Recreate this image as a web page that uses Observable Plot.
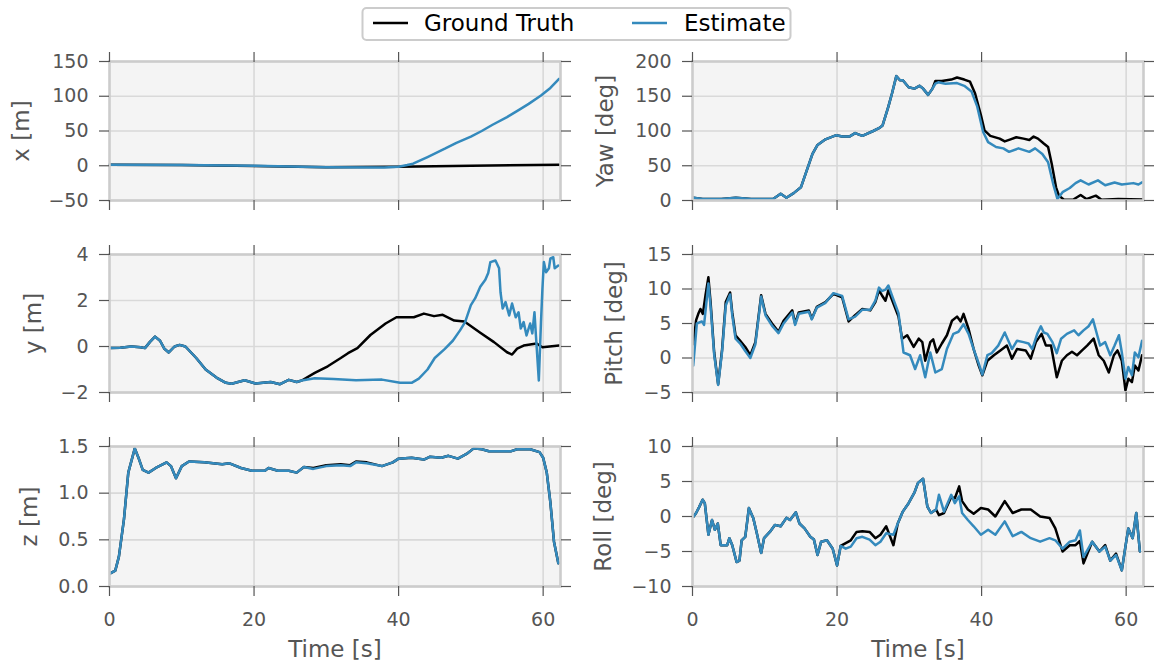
<!DOCTYPE html>
<html>
<head>
<meta charset="utf-8">
<script src="https://cdn.jsdelivr.net/npm/d3@7"></script>
<script src="https://cdn.jsdelivr.net/npm/@observablehq/plot@0.6"></script>
<style>
  html, body { margin: 0; padding: 0; background: #ffffff; }
  #wrap { position: relative; width: 1161px; height: 668px; overflow: hidden; font-family: "DejaVu Sans", sans-serif; }
  #wrap svg { position: absolute; }
</style>
</head>
<body>
<div id="wrap"></div>
<script>
// ---------------- data (time [s], value) ----------------
const timeTicks = [0, 20, 40, 60];
const seriesNames = ["Ground Truth", "Estimate"];

const xTicks = [-50, 0, 50, 100, 150];
const xTruth = [[0,1.5],[10,1],[20,-0.5],[30,-2],[40,-1.5],[50,0],[62.2,1.5]];
const xEst = [[0,1.5],[10,1],[20,0],[30,-2],[38,-2.5],[40,-1.5],[41.2,1],[42,3],[44,12.5],[46.4,24.5],[48,33],[50,42],[51.5,50],[53,59],[55,70],[56.6,80],[58,89],[59.7,101],[61,112],[62.2,125]];

const yTicks = [-2, 0, 2, 4];
const yShared = [[0,-0.07],[1.5,-0.05],[3,0],[4.3,-0.03],[4.9,-0.07],[5.6,0.2],[6.3,0.43],[7,0.25],[7.6,-0.1],[8.2,-0.26],[9,0],[9.7,0.07],[10.5,0],[12,-0.5],[13.3,-1.0],[14.8,-1.35],[16.1,-1.58],[16.9,-1.62],[18.7,-1.47],[20.2,-1.61],[22.3,-1.54],[23.6,-1.64],[24.8,-1.45],[25.9,-1.54],[26.6,-1.48]];
const yTruthTail = [[28.4,-1.15],[30.2,-0.86],[32,-0.5],[33,-0.29],[34.3,-0.07],[36.1,0.5],[38.2,1.0],[39.7,1.27],[42.1,1.27],[43.5,1.43],[44.9,1.32],[46.1,1.38],[47.7,1.13],[49.1,1.09],[51.3,0.6],[53.2,0.19],[55,-0.25],[55.7,-0.35],[56.4,-0.09],[57.3,0.04],[59.1,0.13],[59.9,-0.03],[62.2,0.04]];
const yEstTail = [[28.4,-1.38],[31,-1.41],[34.1,-1.47],[37.7,-1.44],[40.2,-1.58],[41.8,-1.58],[42.8,-1.4],[44,-1.0],[45,-0.5],[46.4,-0.1],[47.5,0.25],[48.5,0.7],[49.2,1.06],[50,1.8],[50.6,2.1],[51.3,2.6],[52,2.9],[52.4,3.2],[52.7,3.67],[53.4,3.74],[53.9,3.4],[54.1,2.36],[54.4,1.65],[54.8,1.93],[55.3,1.35],[55.7,1.87],[56.2,1.27],[56.6,1.49],[56.9,0.78],[57.3,1.06],[57.7,0.48],[58.2,1.0],[58.5,0.57],[58.8,1.49],[59.0,0.48],[59.4,-1.48],[59.7,1.06],[59.9,2.52],[60.1,3.67],[60.4,3.23],[60.8,3.4],[61,3.83],[61.4,3.88],[61.6,3.4],[62.1,3.52]];
const yTruth = yShared.concat(yTruthTail);
const yEst = yShared.concat(yEstTail);

const zTicks = [0, 0.5, 1.0, 1.5];
const zEst = [[0.1,0.14],[0.8,0.17],[1.3,0.32],[2,0.72],[2.6,1.22],[3.5,1.48],[4.1,1.36],[4.6,1.25],[5.4,1.22],[6.4,1.27],[7.9,1.33],[8.5,1.29],[9.2,1.16],[10,1.29],[11,1.34],[13.1,1.33],[15.6,1.31],[16.6,1.32],[18.2,1.27],[19.7,1.24],[21.5,1.24],[22,1.27],[23.3,1.24],[24.8,1.24],[25.9,1.22],[26.9,1.28],[28.2,1.26],[30,1.29],[32,1.3],[33.3,1.29],[34.1,1.33],[35.6,1.32],[37.7,1.29],[39.2,1.33],[40,1.37],[41.8,1.38],[43.5,1.36],[44.3,1.39],[45.9,1.38],[46.9,1.4],[48.2,1.37],[49.4,1.42],[50.4,1.48],[51.5,1.47],[52.5,1.45],[54.6,1.45],[55.6,1.45],[56.4,1.47],[58.2,1.47],[59.5,1.44],[60,1.38],[60.5,1.22],[61,0.9],[61.5,0.48],[62.1,0.25]];
const zTruth = [[0.1,0.14],[0.8,0.17],[1.3,0.32],[2,0.72],[2.6,1.22],[3.5,1.48],[4.1,1.36],[4.6,1.25],[5.4,1.22],[6.4,1.27],[7.9,1.33],[8.5,1.29],[9.2,1.16],[10,1.29],[11,1.34],[13.1,1.33],[15.6,1.31],[16.6,1.32],[18.2,1.27],[19.7,1.24],[21.5,1.24],[22,1.27],[23.3,1.24],[24.8,1.24],[25.9,1.22],[26.9,1.28],[28.2,1.27],[30,1.3],[32,1.31],[33.3,1.3],[34.1,1.34],[35.6,1.33],[37.7,1.29],[39.2,1.33],[40,1.37],[41.8,1.38],[43.5,1.36],[44.3,1.39],[45.9,1.38],[46.9,1.4],[48.2,1.37],[49.4,1.42],[50.4,1.48],[51.5,1.47],[52.5,1.45],[54.6,1.45],[55.6,1.45],[56.4,1.47],[58.2,1.47],[59.5,1.44],[60,1.38],[60.5,1.22],[61,0.9],[61.5,0.48],[62.1,0.25]];

const yawTicks = [0, 50, 100, 150, 200];
const yawShared = [[0.1,4],[1.4,2],[4,2],[6,4],[8.1,2],[11.2,2.4],[12.2,9.6],[13,4],[14,10.6],[15,19],[15.8,43],[16.6,67],[17.3,80],[18.4,88],[19.9,94],[20.7,92],[21.7,92],[22.5,97],[23.5,93],[25,100],[25.8,104],[26.3,108],[27.1,135],[27.6,154],[28.2,179],[28.7,173],[29.1,173],[29.9,163],[30.7,161],[31.4,165],[31.9,161],[32.6,152],[33.2,161]];
const yawTruthTail = [[33.6,172],[34.5,172],[35.8,174],[36.6,177],[37.6,174],[38.4,171],[39.1,154],[39.9,123],[40.4,101],[41.2,93],[42.5,89],[43.2,85],[44,88],[44.8,91],[45.8,89],[46.6,87],[47.2,92],[47.8,89],[48.6,82],[49.2,77],[49.7,53],[50.3,19],[50.7,7],[51.4,1],[52.7,1.5],[53.7,8],[54.5,2],[55.8,7],[56.6,1],[58.9,2],[62.2,1.5]];
const yawEstTail = [[33.6,168],[34,170],[35,168],[36.6,169],[37.6,165],[38.6,157],[39.4,135],[40.2,99],[40.9,84],[42,77],[43,75],[43.8,70],[45.1,75],[46.6,70],[47.4,75],[48.4,67],[49.2,55],[49.9,24],[50.5,2],[51.2,12],[52.2,18],[53,25],[53.7,29],[54.8,23],[56.1,29],[57.1,22],[58.4,26],[59.4,23],[61,25],[61.7,23],[62.2,26]];
const yawTruth = yawShared.concat(yawTruthTail);
const yawEst = yawShared.concat(yawEstTail);

const pitchTicks = [-5, 0, 5, 10, 15];
const pitchTruth = [[0.1,2.0],[0.5,5.5],[0.8,6.4],[1.1,7.1],[1.43,6.4],[1.8,9.1],[2.2,11.7],[2.5,8.1],[3,0.8],[3.55,-3.8],[4.1,1.3],[4.6,8.1],[5.2,9.5],[5.5,6.6],[5.95,3.3],[6.6,2.5],[7.3,1.6],[8,0.4],[8.7,2.3],[9.5,9.1],[10.1,6.4],[11,5.0],[11.9,3.8],[12.6,5.4],[13.8,6.9],[14.2,5.0],[14.7,6.6],[16.1,6.9],[16.5,5.7],[17.2,7.4],[18.4,8.1],[19.5,9.3],[20.7,8.8],[21.6,5.3],[22.5,6.2],[23.5,7.1],[24.6,6.9],[25.3,8.1],[25.8,9.8],[26.2,9.1],[26.7,8.3],[27.1,9.8],[27.8,7.9],[28.5,6.0],[29,2.8],[29.7,3.3],[30.6,1.6],[31.3,2.8],[31.8,2.3],[32.2,-0.4],[32.9,2.3],[33.3,2.7],[33.8,0.8],[34.5,2.1],[35.2,3.3],[35.9,5.4],[36.6,6.0],[37.1,5.3],[37.5,6.4],[38.2,4.2],[38.9,1.3],[39.6,-1.1],[40.1,-2.5],[40.8,-0.4],[41.7,0.4],[42.6,1.1],[43.5,1.8],[44.2,-0.1],[44.9,1.3],[46.1,1.1],[46.8,-0.1],[47.5,2.3],[48.3,3.5],[48.9,1.8],[49.6,1.8],[50.4,-2.8],[51.1,-0.4],[51.8,0.4],[52.5,0.9],[53.2,0.4],[53.9,1.1],[54.6,1.8],[55.5,2.8],[56.2,0.4],[56.9,-0.4],[57.6,-2.1],[58.3,0.4],[58.8,1.1],[59.4,-0.4],[59.9,-4.7],[60.3,-3.0],[60.8,-3.5],[61.2,-1.1],[61.7,-1.8],[62.2,0.4]];
const pitchEst = [[0.1,-1.1],[0.6,5.0],[1.3,5.3],[1.6,4.8],[2.2,10.8],[2.5,7.5],[3,0.5],[3.55,-3.9],[4.1,1.0],[4.6,7.6],[5.2,9.2],[5.5,6.2],[5.95,2.8],[6.6,2.1],[7.3,1.0],[8,0.0],[8.7,2.0],[9.5,8.9],[10.1,6.2],[11,4.7],[11.9,3.6],[12.6,5.0],[13.8,6.6],[14.2,4.8],[14.7,6.4],[16.1,6.7],[16.5,5.6],[17.2,7.3],[18.4,8.0],[19.5,9.4],[20.7,9.0],[21.6,5.6],[22.5,6.0],[23.5,7.0],[24.6,7.0],[25.3,8.3],[25.8,10.2],[26.2,9.7],[26.7,9.9],[27.1,10.5],[27.8,8.5],[28.5,6.5],[29.2,0.8],[30.1,0.4],[30.8,-1.6],[31.5,0.4],[32.2,-2.8],[32.9,0.8],[33.6,-2.1],[34.5,-1.6],[35.2,1.3],[36.1,3.5],[36.8,3.8],[37.5,4.9],[38.2,3.5],[38.9,1.3],[39.6,-0.8],[40.1,-2.4],[40.8,0.4],[41.4,0.7],[42.3,1.8],[43.2,3.7],[43.7,2.5],[44.2,1.3],[44.9,2.5],[45.8,2.3],[46.5,2.1],[47,1.3],[47.7,3.5],[48.2,4.6],[48.6,3.7],[49.1,3.5],[49.8,2.3],[50.4,0.7],[51,2.8],[51.8,3.5],[52.8,4.0],[53.4,3.3],[54.1,4.0],[54.8,4.6],[55.4,5.6],[56,3.3],[56.4,1.8],[57.1,2.3],[57.8,0.4],[58.4,1.8],[59,3.3],[59.4,0.8],[59.9,-3.0],[60.3,-1.3],[60.8,-2.5],[61.2,0.8],[61.7,0.1],[62.2,2.5]];

const rollTicks = [-10, -5, 0, 5, 10];
const rollShared = [[0.15,0],[0.5,0.5],[0.9,1.3],[1.4,2.4],[1.7,1.9],[2.2,-2.6],[2.7,-0.5],[3.1,-1.9],[3.5,-1.0],[3.9,-4.1],[4.8,-4.1],[5.1,-3.1],[5.5,-4.1],[6.1,-6.5],[6.5,-6.3],[6.8,-3.4],[7.3,-2.9],[7.8,1.2],[8.4,-0.2],[8.9,-2.4],[9.5,-5.2],[9.9,-3.1],[10.7,-2.2],[11.4,-1.2],[12.2,-1.4],[13,-0.2],[13.5,-0.5],[14.3,0.6],[14.8,-1.0],[15.5,-1.7],[16.3,-2.9],[16.8,-3.3],[17.3,-5.5],[17.8,-3.6],[18.6,-3.4],[19.4,-4.6],[20,-7.0],[20.5,-4.2]];
const rollTruthTail = [[21.2,-3.8],[21.9,-3.4],[22.7,-2.2],[23.5,-2.1],[24.5,-2.2],[25.3,-3.1],[26,-2.6],[26.8,-1.4],[27.8,-4.1],[28.4,-1.0],[29.1,0.7],[29.9,1.9],[30.7,3.4],[31.2,4.8],[31.9,5.4],[32.5,1.4],[33,0.5],[33.7,1.0],[34.1,0.2],[34.8,0.5],[35.8,2.8],[36.3,2.6],[36.9,4.3],[37.3,2.2],[38.1,1.0],[38.9,0.4],[39.9,1.2],[40.9,1.0],[41.9,0],[43.2,2.2],[44.3,0.5],[45.5,1.0],[46.8,1.0],[48.1,0],[49.4,-0.2],[50.2,-1.7],[51.2,-5.0],[52.2,-4.1],[53,-4.1],[53.6,-3.5],[54.1,-6.7],[55.3,-3.6],[56.3,-5.0],[57.1,-4.1],[57.8,-6.3],[58.6,-5.3],[59.4,-7.7],[59.9,-4.3],[60.3,-1.7],[60.9,-3.1],[61.4,0.5],[61.9,-5.0]];
const rollEstTail = [[21.2,-4.6],[21.9,-4.3],[22.7,-3.1],[23.5,-2.9],[24.5,-3.3],[25.3,-4.1],[26,-3.6],[26.8,-2.4],[27.8,-2.6],[28.4,-1.0],[29.1,0.7],[29.9,1.9],[30.7,3.4],[31.2,4.8],[31.9,5.4],[32.5,1.4],[33,0.5],[33.7,1.0],[34.1,3.1],[34.8,0.7],[35.8,3.1],[36.3,1.9],[36.9,2.9],[37.3,0.5],[38.1,-0.5],[38.9,-1.4],[39.9,-2.6],[40.9,-1.9],[41.9,-2.6],[43.2,-0.7],[44.3,-2.8],[45.5,-2.2],[46.8,-3.1],[48.1,-3.6],[49.4,-3.1],[50.2,-3.4],[51.2,-4.6],[52.2,-3.6],[53,-3.4],[53.6,-2.0],[54.1,-5.8],[55.3,-3.6],[56.3,-5.0],[57.1,-4.3],[57.8,-6.3],[58.6,-5.5],[59.4,-7.7],[59.9,-4.3],[60.3,-1.7],[60.9,-3.1],[61.4,0.5],[61.9,-5.0]];
const rollTruth = rollShared.concat(rollTruthTail);
const rollEst = rollShared.concat(rollEstTail);

// ---------------- styling / layout ----------------
const TRUTH_COLOR = "#000000";
const EST_COLOR = "#348ABD";
const rowsGeom = [{top: 61, h: 139}, {top: 254, h: 138}, {top: 446, h: 140}];
const cols = [{left: 0, width: 580, mL: 109, mR: 20}, {left: 580, width: 581, mL: 112, mR: 18}];
const fmtInt = d => (d < 0 ? "\u2212" + Math.abs(d) : String(d));
const fmt1 = d => d.toFixed(1);
const wrap = document.getElementById("wrap");

function panel(cfg) {
  const c = cols[cfg.col], r = rowsGeom[cfg.row];
  const mT = 22, mB = cfg.bottom ? 84 : 22;
  const tickStyle = {stroke: "#555555", strokeWidth: 1.2, tickSize: 10, label: null};
  const marks = [
    Plot.frame({fill: "#f4f4f4", stroke: null}),
    Plot.gridY({ticks: cfg.ticks, stroke: "#d9d9d9", strokeOpacity: 1, strokeWidth: 1.6}),
    Plot.gridX({ticks: [20, 40, 60], stroke: "#d9d9d9", strokeOpacity: 1, strokeWidth: 1.6}),
    Plot.line(cfg.truth, {x: d => d[0], y: d => d[1], stroke: TRUTH_COLOR, strokeWidth: 2.5}),
    Plot.line(cfg.est, {x: d => d[0], y: d => d[1], stroke: EST_COLOR, strokeWidth: 2.5}),
    Plot.frame({stroke: "#cccccc", strokeWidth: 2.6}),
    Plot.axisY({...tickStyle, anchor: "left", ticks: cfg.ticks, tickPadding: 11, tickFormat: cfg.fmt, fill: "#555555", fontSize: 19}),
    Plot.axisY({...tickStyle, anchor: "right", ticks: cfg.ticks, tickFormat: () => ""}),
    Plot.axisX({...tickStyle, anchor: "top", ticks: timeTicks, tickFormat: () => ""}),
    Plot.axisX({...tickStyle, anchor: "bottom", ticks: timeTicks, tickPadding: 16,
      tickFormat: cfg.bottom ? (d => String(d)) : (() => ""), fill: "#555555", fontSize: 19}),
    Plot.text([cfg.label], {text: d => d, frameAnchor: "left", dx: cfg.labelX - (c.left + c.mL),
      rotate: -90, textAnchor: "middle", lineAnchor: "bottom", fontSize: 23, fill: "#555555"})
  ];
  if (cfg.bottom) {
    marks.push(Plot.text(["Time [s]"], {text: d => d, frameAnchor: "bottom", dy: 70,
      lineAnchor: "bottom", fontSize: 23, fill: "#555555"}));
  }
  const svg = Plot.plot({
    width: c.width, height: r.h + mT + mB,
    marginLeft: c.mL, marginRight: c.mR, marginTop: mT, marginBottom: mB,
    x: {domain: [0, 62.4]},
    y: {domain: cfg.domain},
    style: {fontFamily: '"DejaVu Sans", sans-serif', fontSize: "19px", color: "#555555",
      background: "transparent", overflow: "visible"},
    marks
  });
  svg.style.left = c.left + "px";
  svg.style.top = (r.top - mT) + "px";
  wrap.appendChild(svg);
}

panel({col: 0, row: 0, truth: xTruth, est: xEst, domain: [-50, 150], ticks: xTicks, fmt: fmtInt, label: "x [m]", labelX: 28});
panel({col: 0, row: 1, truth: yTruth, est: yEst, domain: [-2, 4], ticks: yTicks, fmt: fmtInt, label: "y [m]", labelX: 40});
panel({col: 0, row: 2, truth: zTruth, est: zEst, domain: [0, 1.5], ticks: zTicks, fmt: fmt1, label: "z [m]", labelX: 36, bottom: true});
panel({col: 1, row: 0, truth: yawTruth, est: yawEst, domain: [0, 200], ticks: yawTicks, fmt: fmtInt, label: "Yaw [deg]", labelX: 612});
panel({col: 1, row: 1, truth: pitchTruth, est: pitchEst, domain: [-5, 15], ticks: pitchTicks, fmt: fmtInt, label: "Pitch [deg]", labelX: 621});
panel({col: 1, row: 2, truth: rollTruth, est: rollEst, domain: [-10, 10], ticks: rollTicks, fmt: fmtInt, label: "Roll [deg]", labelX: 610, bottom: true});

// ---------------- legend ----------------
const NS = "http://www.w3.org/2000/svg";
const leg = document.createElementNS(NS, "svg");
leg.setAttribute("width", "1161"); leg.setAttribute("height", "50");
leg.style.left = "0px"; leg.style.top = "0px";
function el(tag, attrs, text) {
  const e = document.createElementNS(NS, tag);
  for (const k in attrs) e.setAttribute(k, attrs[k]);
  if (text) e.textContent = text;
  leg.appendChild(e);
  return e;
}
el("rect", {x: 362.5, y: 8, width: 428, height: 32, rx: 4, fill: "#ffffff", stroke: "#cccccc", "stroke-width": 2});
const legItems = [{x: 373, color: TRUTH_COLOR, tx: 424}, {x: 632, color: EST_COLOR, tx: 684}];
legItems.forEach((it, i) => {
  el("line", {x1: it.x, x2: it.x + 35, y1: 23, y2: 23, stroke: it.color, "stroke-width": 2.5});
  el("text", {x: it.tx, y: 31, fill: "#000000", "font-size": 23, "font-family": '"DejaVu Sans", sans-serif'}, seriesNames[i]);
});
wrap.appendChild(leg);
</script>
</body>
</html>
